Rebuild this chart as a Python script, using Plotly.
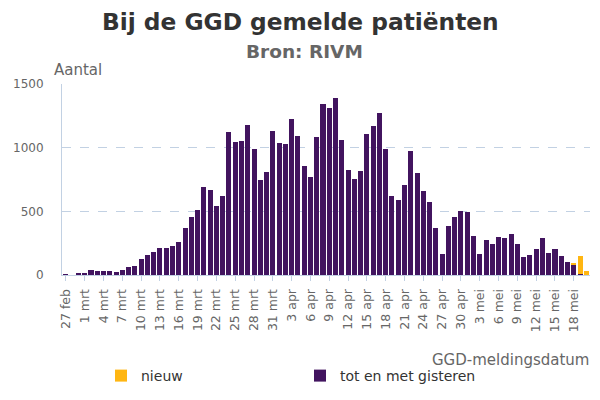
import plotly.graph_objects as go
import pandas as pd

dates = pd.date_range("2020-02-27", "2020-05-20", freq="D").strftime("%Y-%m-%d").tolist()

tot_en_met_gisteren = [
    1, 0, 8, 8, 40, 32, 32, 32, 24, 40,
    64, 72, 128, 160, 184, 215, 215, 231, 263, 367,
    455, 511, 694, 670, 543, 622, 1125, 1045, 1053, 1180,
    990, 744, 808, 1133, 1038, 1030, 1228, 1093, 855, 768,
    1085, 1346, 1315, 1394, 1061, 824, 752, 816, 1109, 1172,
    1275, 990, 618, 586, 705, 974, 800, 657, 570, 372,
    166, 388, 452, 499, 491, 309, 166, 277, 245, 301,
    293, 325, 245, 143, 158, 206, 293, 174, 206, 150,
    103, 79, 8, 0,
]
nieuw = [0] * 81 + [8, 143, 32]

tick_dates = dates[::3]
tick_labels = [
    "27 feb", "1 mrt", "4 mrt", "7 mrt", "10 mrt", "13 mrt", "16 mrt", "19 mrt",
    "22 mrt", "25 mrt", "28 mrt", "31 mrt", "3 apr", "6 apr", "9 apr", "12 apr",
    "15 apr", "18 apr", "21 apr", "24 apr", "27 apr", "30 apr", "3 mei", "6 mei",
    "9 mei", "12 mei", "15 mei", "18 mei",
]

PURPLE = "#42145f"
ORANGE = "#ffb612"
GRAY = "#666666"
GRID = "#c2d1e3"
FONT = "DejaVu Sans"

PLOT_LEFT, PLOT_RIGHT = 62, 590
PLOT_TOP, PLOT_BOTTOM = 84, 275
PW = PLOT_RIGHT - PLOT_LEFT
PH = PLOT_BOTTOM - PLOT_TOP


def px(pixel_x):
    return (pixel_x - PLOT_LEFT) / PW


def py(pixel_y):
    return (PLOT_BOTTOM - pixel_y) / PH


fig = go.Figure()
fig.add_trace(go.Bar(x=dates, y=tot_en_met_gisteren, name="tot en met gisteren",
                     marker=dict(color=PURPLE, line=dict(width=0))))
fig.add_trace(go.Bar(x=dates, y=nieuw, name="nieuw",
                     marker=dict(color=ORANGE, line=dict(width=0))))

fig.update_layout(
    width=600, height=400,
    barmode="stack", bargap=0.2,
    paper_bgcolor="white", plot_bgcolor="white",
    margin=dict(l=PLOT_LEFT, r=600 - PLOT_RIGHT, t=PLOT_TOP, b=400 - PLOT_BOTTOM,
                autoexpand=False),
    font=dict(family=FONT, color=GRAY),
    xaxis=dict(
        type="date", automargin=False,
        range=["2020-02-26 09:00", "2020-05-20 14:00"],
        tickvals=tick_dates, ticktext=tick_labels, tickangle=-90,
        tickfont=dict(size=12.5, color=GRAY), ticklabelstandoff=3,
        showgrid=False, showline=True, linecolor=GRID, linewidth=1,
        ticks="outside", tickcolor=GRID, ticklen=5,
    ),
    yaxis=dict(
        automargin=False,
        range=[0, 1500], tickvals=[0, 500, 1000, 1500],
        tickfont=dict(size=12, color=GRAY),
        showgrid=True, gridcolor=GRID, griddash="dash", gridwidth=1,
        showline=True, linecolor=GRID, linewidth=1,
        zeroline=False, ticks="", ticklabelstandoff=15,
    ),
    legend=dict(
        orientation="h", x=0.5 - 26 / PW, xanchor="center", y=py(360), yanchor="top",
        traceorder="reversed", entrywidth=154, entrywidthmode="pixels",
        itemwidth=30,
        font=dict(family=FONT, size=14, color="#333333"),
    ),
    annotations=[
        dict(text="<b>Bij de GGD gemelde patiënten</b>", xref="paper", yref="paper",
             x=px(300), y=py(21), xanchor="center", yanchor="middle", showarrow=False,
             font=dict(family=FONT, size=23.3, color="#333333")),
        dict(text="<b>Bron: RIVM</b>", xref="paper", yref="paper",
             x=px(304), y=py(51), xanchor="center", yanchor="middle", showarrow=False,
             font=dict(family=FONT, size=18.5, color=GRAY)),
        dict(text="Aantal", xref="paper", yref="paper", x=px(52), y=py(70),
             xanchor="left", yanchor="middle", showarrow=False,
             font=dict(family=FONT, size=15, color=GRAY)),
        dict(text="GGD-meldingsdatum", xref="paper", yref="paper", x=px(591), y=py(360),
             xanchor="right", yanchor="middle", showarrow=False,
             font=dict(family=FONT, size=15, color=GRAY)),
    ],
)

fig.write_html("out.html", config={"displayModeBar": False},
               post_script="document.body.style.margin='0';")
